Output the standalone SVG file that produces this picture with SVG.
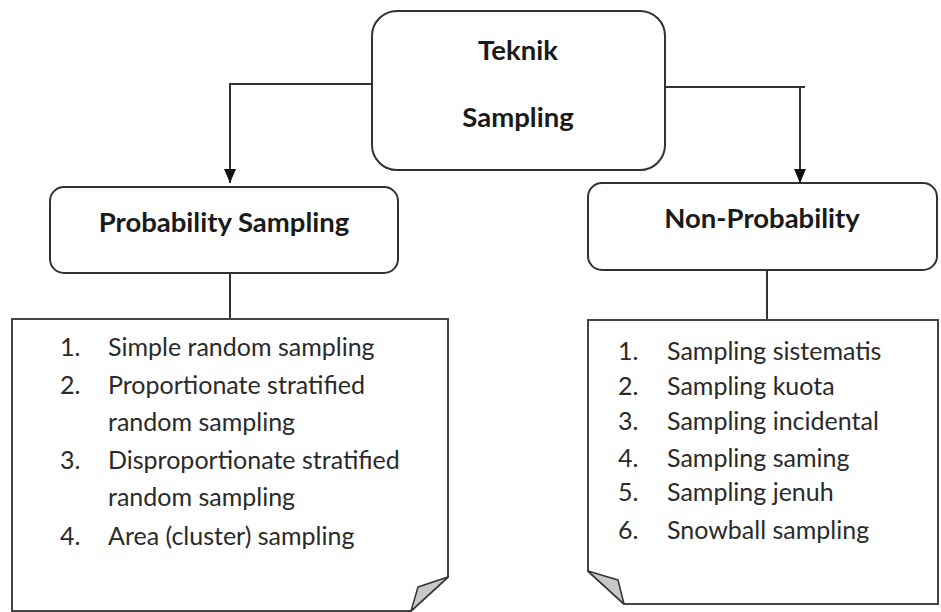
<svg xmlns="http://www.w3.org/2000/svg" width="941" height="612" viewBox="0 0 941 612">
<defs>
<marker id="arr" markerWidth="14" markerHeight="12" refX="14" refY="6" orient="auto" markerUnits="userSpaceOnUse" viewBox="0 0 14 12">
<path d="M0,0 L14,6 L0,12 Z" fill="#111"/>
</marker>
<style>
.box{fill:#fff;stroke:#333;stroke-width:2}
.page{fill:#fff;stroke:#444;stroke-width:2}
.fold{fill:#c8c8c8;stroke:#333;stroke-width:1.5;stroke-linejoin:round}
.con{fill:none;stroke:#333;stroke-width:2}
.h{font-family:Lato,"Liberation Sans",sans-serif;font-weight:bold;font-size:27.5px;fill:#1a1a1a;text-anchor:middle}
.li{font-family:Lato,"Liberation Sans",sans-serif;font-size:25px;fill:#2a2a2a}
</style>
</defs>
<rect width="941" height="612" fill="#fff"/>
<g id="connectors">
<path class="con" d="M372,84 H230 V183" marker-end="url(#arr)"/>
<path class="con" d="M665,87 H805"/>
<path class="con" d="M800,87 V183" marker-end="url(#arr)"/>
<path class="con" d="M230,273 V319"/>
<path class="con" d="M767,270 V320"/>
</g>
<g id="teknik-sampling">
<rect class="box" x="372" y="11" width="293" height="159" rx="25"/>
<text class="h" x="518" y="60">Teknik</text>
<text class="h" x="518" y="127">Sampling</text>
</g>
<g id="probability-sampling">
<rect class="box" x="50" y="187" width="348" height="86" rx="14"/>
<text class="h" x="224" y="232">Probability Sampling</text>
</g>
<g id="non-probability">
<rect class="box" x="588" y="183" width="349" height="87" rx="14"/>
<text class="h" x="762" y="228">Non-Probability</text>
</g>
<g id="probability-list">
<path class="page" d="M12,319 H448 V577 L411,611 H12 Z"/>
<path class="fold" d="M448,577 L418,587 L411,611 Z"/>
<text class="li" x="60" y="356">1.</text><text class="li" x="108" y="356">Simple random sampling</text>
<text class="li" x="60" y="394">2.</text><text class="li" x="108" y="394">Proportionate stratified</text>
<text class="li" x="108" y="431">random sampling</text>
<text class="li" x="60" y="469">3.</text><text class="li" x="108" y="469">Disproportionate stratified</text>
<text class="li" x="108" y="506">random sampling</text>
<text class="li" x="60" y="545">4.</text><text class="li" x="108" y="545">Area (cluster) sampling</text>
</g>
<g id="non-probability-list">
<path class="page" d="M588,320 H938 V604 H624 L588,571 Z"/>
<path class="fold" d="M588,571 L618,580 L624,604 Z"/>
<text class="li" x="618" y="360">1.</text><text class="li" x="667" y="360">Sampling sistematis</text>
<text class="li" x="618" y="395">2.</text><text class="li" x="667" y="395">Sampling kuota</text>
<text class="li" x="618" y="430">3.</text><text class="li" x="667" y="430">Sampling incidental</text>
<text class="li" x="618" y="467">4.</text><text class="li" x="667" y="467">Sampling saming</text>
<text class="li" x="618" y="501">5.</text><text class="li" x="667" y="501">Sampling jenuh</text>
<text class="li" x="618" y="539">6.</text><text class="li" x="667" y="539">Snowball sampling</text>
</g>
</svg>
